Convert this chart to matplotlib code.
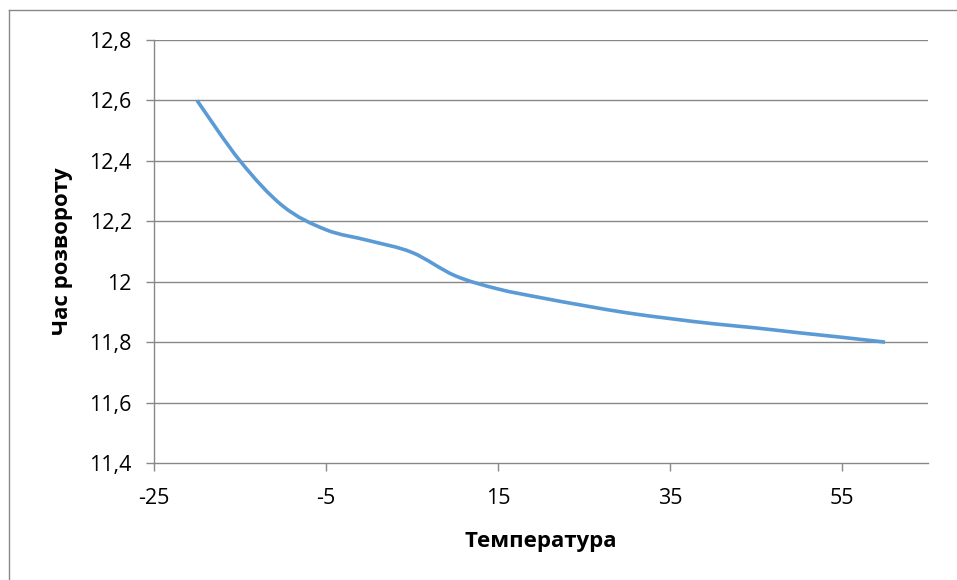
import matplotlib
matplotlib.use("Agg")
import matplotlib.pyplot as plt
from matplotlib.path import Path
from matplotlib.patches import PathPatch
from matplotlib.lines import Line2D

plt.rcParams["axes.unicode_minus"] = False

# data
temperature = [-20, -15, -10, -5, 0, 5, 10, 15, 20, 25, 30, 35, 40, 45, 50, 55, 60]
turn_time = [12.6, 12.40, 12.25, 12.172, 12.136, 12.097, 12.02, 11.976, 11.947,
             11.921, 11.897, 11.878, 11.861, 11.847, 11.831, 11.816, 11.80]

x_ticks = [-25, -5, 15, 35, 55]
y_ticks = [11.4, 11.6, 11.8, 12.0, 12.2, 12.4, 12.6, 12.8]
y_tick_labels = ["11,4", "11,6", "11,8", "12", "12,2", "12,4", "12,6", "12,8"]

grid_col = "#888888"
line_col = "#5B9BD5"
font = ["Open Sans", "DejaVu Sans"]


def smooth_path(xs, ys):
    # Excel-style smoothed line: cubic bezier segments through every point
    verts = [(xs[0], ys[0])]
    codes = [Path.MOVETO]
    n = len(xs)
    for i in range(n - 1):
        x0, y0 = (xs[i - 1], ys[i - 1]) if i > 0 else (xs[i], ys[i])
        x1, y1 = xs[i], ys[i]
        x2, y2 = xs[i + 1], ys[i + 1]
        x3, y3 = (xs[i + 2], ys[i + 2]) if i + 2 < n else (x2, y2)
        c1 = (x1 + (x2 - x0) / 6.0, y1 + (y2 - y0) / 6.0)
        c2 = (x2 - (x3 - x1) / 6.0, y2 - (y3 - y1) / 6.0)
        verts += [c1, c2, (x2, y2)]
        codes += [Path.CURVE4] * 3
    return Path(verts, codes)


fig = plt.figure(figsize=(9.57, 5.8), dpi=100)
ax = fig.add_axes([154 / 957, 1 - 463 / 580, (928 - 154) / 957, (463 - 40) / 580])

ax.add_patch(PathPatch(smooth_path(temperature, turn_time), facecolor="none",
                       edgecolor=line_col, lw=2.6, capstyle="butt", zorder=3))

ax.set_xlim(-25, 65)
ax.set_ylim(11.4, 12.8)
ax.set_xticks(x_ticks)
ax.set_yticks(y_ticks)
ax.set_yticklabels(y_tick_labels)

for y in y_ticks[1:]:
    ax.axhline(y, color=grid_col, lw=1, zorder=1)

for s in ["top", "right"]:
    ax.spines[s].set_visible(False)
for s in ["left", "bottom"]:
    ax.spines[s].set_color(grid_col)
    ax.spines[s].set_linewidth(1)

ax.tick_params(axis="both", direction="out", length=6, width=1, color=grid_col,
               labelsize=15.5, labelcolor="black")
ax.tick_params(axis="x", pad=12)
ax.tick_params(axis="y", pad=10)
for lab in ax.get_xticklabels() + ax.get_yticklabels():
    lab.set_family(font)

ax.set_xlabel("Температура", fontsize=16, fontweight="bold", family=font, labelpad=16)
ax.set_ylabel("Час розвороту", fontsize=16, fontweight="bold", family=font, labelpad=12)

# outer chart-area border (only top and left visible in the crop)
fig.add_artist(Line2D([9 / 957, 1], [1 - 10 / 580, 1 - 10 / 580], color=grid_col, lw=1))
fig.add_artist(Line2D([9 / 957, 9 / 957], [0, 1 - 10 / 580], color=grid_col, lw=1))

fig.savefig("out.png", dpi=100)
